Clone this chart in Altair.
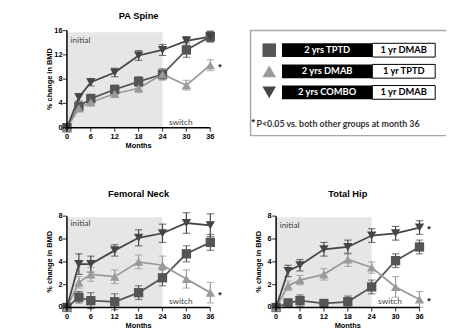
import altair as alt
import pandas as pd

# ---------------- data ----------------
months = [0, 3, 6, 12, 18, 24, 30, 36]
series_keys = ["TPTD", "DMAB", "COMBO"]
series_colors = ["#555555", "#9a9a9a", "#454545"]
series_shapes = ["square", "triangle-up", "triangle-down"]

spine_tptd = [0, 3.5, 4.8, 6.3, 7.6, 8.8, 12.8, 15.0]
spine_tptd_err = [0.2, 0.6, 0.7, 0.7, 0.8, 0.9, 1.2, 0.8]
spine_dmab = [0, 3.2, 4.2, 5.6, 6.5, 8.8, 7.0, 10.3]
spine_dmab_err = [0.2, 0.6, 0.6, 0.6, 0.7, 0.9, 0.8, 0.9]
spine_combo = [0, 5.0, 7.5, 9.1, 11.9, 12.8, 14.3, 15.0]
spine_combo_err = [0.2, 0.6, 0.6, 0.7, 0.8, 0.9, 0.7, 0.9]

fn_tptd = [0, 0.9, 0.6, 0.5, 1.3, 2.6, 4.7, 5.7]
fn_tptd_err = [0.1, 0.5, 0.7, 0.7, 0.6, 0.7, 0.7, 0.7]
fn_dmab = [0, 2.2, 2.9, 2.7, 4.0, 3.7, 2.5, 1.3]
fn_dmab_err = [0.1, 0.5, 0.6, 0.6, 0.6, 0.8, 0.8, 0.9]
fn_combo = [0, 3.8, 3.8, 5.0, 6.1, 6.5, 7.4, 7.2]
fn_combo_err = [0.1, 0.9, 0.7, 0.5, 0.7, 0.8, 0.9, 1.0]

th_tptd = [0, 0.4, 0.6, 0.35, 0.5, 1.8, 4.1, 5.3]
th_tptd_err = [0.1, 0.3, 0.5, 0.3, 0.5, 0.6, 0.6, 0.6]
th_dmab = [0, 1.9, 2.4, 2.9, 4.2, 3.5, 1.8, 0.7]
th_dmab_err = [0.1, 0.4, 0.4, 0.5, 0.6, 0.5, 0.9, 0.7]
th_combo = [0, 3.2, 3.7, 5.1, 5.3, 6.3, 6.5, 7.0]
th_combo_err = [0.1, 0.5, 0.5, 0.6, 0.6, 0.6, 0.6, 0.6]

x_ticks = [0, 6, 12, 18, 24, 30, 36]
spine_y_ticks = [0, 4, 8, 12, 16]
hip_y_ticks = [0, 2, 4, 6, 8]
initial_period = [0, 24]

legend_left = ["2 yrs TPTD", "2 yrs DMAB", "2 yrs COMBO"]
legend_right = ["1 yr DMAB", "1 yr TPTD", "1 yr DMAB"]
footnote = "P<0.05 vs. both other groups at month 36"

# ---------------- layout / style ----------------
W, H = 446, 323
FONT = "Liberation Sans"
LFONT = "Lato"

color_scale = alt.Scale(domain=series_keys, range=series_colors)
shape_scale = alt.Scale(domain=series_keys, range=series_shapes)


def panel(title, values, errors, ymax, yticks, xr, yr, shade_top,
          initial_y, switch_y, star_series, title_y):
    rows = []
    for key, vals, errs in zip(series_keys, values, errors):
        for m, v, e in zip(months, vals, errs):
            rows.append({"series": key, "month": m, "value": v,
                         "lo": v - e, "hi": v + e})
    df = pd.DataFrame(rows)
    xs = alt.Scale(domain=[0, 36], range=xr, nice=False, zero=False)
    ys = alt.Scale(domain=[0, ymax], range=yr, nice=False, zero=False)

    def X(f):
        return alt.X(f, type="quantitative", scale=xs, axis=None)

    def Y(f):
        return alt.Y(f, type="quantitative", scale=ys, axis=None)

    col = alt.Color("series:N", scale=color_scale, legend=None)

    shade_df = pd.DataFrame({"x0": [initial_period[0]], "x1": [initial_period[1]],
                             "y0": [0], "y1": [shade_top]})
    shade = alt.Chart(shade_df).mark_rect(color="#e6e6e6").encode(
        x=X("x0"), x2="x1", y=Y("y0"), y2="y1")

    # hand-drawn axes (Prism style)
    dom_df = pd.DataFrame({"x0": [0, 0], "x1": [36, 0], "y0": [0, 0], "y1": [0, ymax]})
    domain = alt.Chart(dom_df).mark_rule(color="black", strokeWidth=1.5).encode(
        x=X("x0"), x2="x1", y=Y("y0"), y2="y1")
    xt_df = pd.DataFrame({"v": x_ticks, "z": [0] * len(x_ticks)})
    yt_df = pd.DataFrame({"v": yticks, "z": [0] * len(yticks)})
    xtick = alt.Chart(xt_df).mark_tick(orient="vertical", size=4, thickness=1.2,
                                       yOffset=2, color="black").encode(x=X("v"), y=Y("z"))
    ytick = alt.Chart(yt_df).mark_tick(orient="horizontal", size=4, thickness=1.2,
                                       xOffset=-2, color="black").encode(x=X("z"), y=Y("v"))
    xlab = alt.Chart(xt_df).mark_text(font=FONT, fontSize=7.5, fontWeight="bold",
                                      baseline="middle", yOffset=9.5).encode(
        x=X("v"), y=Y("z"), text="v:Q", color=alt.value("black"))
    ylab = alt.Chart(yt_df).mark_text(font=FONT, fontSize=7.5, fontWeight="bold",
                                      align="right", baseline="middle", xOffset=-4.5).encode(
        x=X("z"), y=Y("v"), text="v:Q", color=alt.value("black"))
    xt_title = alt.Chart(pd.DataFrame({"x": [18], "y": [0], "t": ["Months"]})).mark_text(
        font=FONT, fontSize=7.5, fontWeight="bold", baseline="middle", yOffset=19).encode(
        x=X("x"), y=Y("y"), text="t:N", color=alt.value("black"))
    yt_title = alt.Chart(pd.DataFrame({"x": [0], "y": [ymax / 2], "t": ["% change in BMD"]})).mark_text(
        font=FONT, fontSize=7.5, fontWeight="bold", baseline="middle", angle=270,
        xOffset=-17.5).encode(
        x=X("x"), y=Y("y"), text="t:N", color=alt.value("black"))

    base = alt.Chart(df)
    err = base.mark_rule(strokeWidth=1.2).encode(x=X("month"), y=Y("lo"), y2="hi", color=col)
    cap_lo = base.mark_tick(orient="horizontal", size=7.5, thickness=1.2).encode(
        x=X("month"), y=Y("lo"), color=col)
    cap_hi = base.mark_tick(orient="horizontal", size=7.5, thickness=1.2).encode(
        x=X("month"), y=Y("hi"), color=col)
    line = base.mark_line(strokeWidth=1.8).encode(x=X("month"), y=Y("value"), color=col)
    pts = base.mark_point(filled=True, size=90, opacity=1).encode(
        x=X("month"), y=Y("value"), color=col,
        shape=alt.Shape("series:N", scale=shape_scale, legend=None))

    lab_df = pd.DataFrame({"x": [0.9, 25.6], "y": [initial_y, switch_y],
                           "t": ["initial", "switch"]})
    labs = alt.Chart(lab_df).mark_text(align="left", baseline="middle", font=LFONT,
                                       fontSize=8.5).encode(
        x=X("x"), y=Y("y"), text="t:N", color=alt.value("#444444"))

    star_df = df[(df["month"] == 36) & (df["series"].isin(star_series))]
    stars = alt.Chart(star_df).mark_text(text="*", align="left", baseline="middle",
                                          xOffset=8, yOffset=2, font=FONT, fontSize=9,
                                          fontWeight="bold").encode(
        x=X("month"), y=Y("value"), color=alt.value("#222222"))

    ttl = alt.Chart(pd.DataFrame({"t": [title]})).mark_text(
        font=FONT, fontSize=9.5, fontWeight="bold", baseline="middle").encode(
        x=alt.value((xr[0] + xr[1]) / 2), y=alt.value(title_y), text="t:N",
        color=alt.value("black"))

    return alt.layer(shade, err, cap_lo, cap_hi, line, pts, domain, xtick, ytick,
                     xlab, ylab, xt_title, yt_title, labs, stars, ttl)


spine = panel("PA Spine", [spine_tptd, spine_dmab, spine_combo],
              [spine_tptd_err, spine_dmab_err, spine_combo_err], 16, spine_y_ticks,
              [60, 206], [119, 20], 15.7, 14.4, 1.0, ["DMAB"], 5)
fneck = panel("Femoral Neck", [fn_tptd, fn_dmab, fn_combo],
              [fn_tptd_err, fn_dmab_err, fn_combo_err], 8, hip_y_ticks,
              [60, 206], [302, 209], 7.9, 7.4, 0.6, ["DMAB"], 187)
thip = panel("Total Hip", [th_tptd, th_dmab, th_combo],
             [th_tptd_err, th_dmab_err, th_combo_err], 8, hip_y_ticks,
             [273, 419], [302, 209], 7.9, 7.2, 0.6, ["DMAB", "COMBO"], 187)

# ---------------- legend box ----------------
leg_df = pd.DataFrame({"row": [0, 1, 2], "series": series_keys,
                       "left": legend_left, "right": legend_right})
row_y = alt.Y("row:O", axis=None,
              scale=alt.Scale(type="band", domain=[0, 1, 2], range=[29.25, 93.75],
                              paddingInner=0.349, paddingOuter=0.1745))

frame = alt.Chart(pd.DataFrame({"a": [0]})).mark_rect(
    fill="white", stroke="#a8a8a8", strokeWidth=1.5).encode(
    x=alt.value(247), x2=alt.value(449), y=alt.value(20), y2=alt.value(127))
leg = alt.Chart(leg_df)
black_bars = leg.mark_bar(color="black", orient="horizontal").encode(
    x=alt.value(279), x2=alt.value(371), y=row_y)
white_boxes = leg.mark_bar(color="white", stroke="black", strokeWidth=1,
                           orient="horizontal").encode(
    x=alt.value(371), x2=alt.value(435), y=row_y)
left_txt = leg.mark_text(font=LFONT, fontSize=9.5, fontWeight="bold",
                         baseline="middle").encode(
    x=alt.value(325), y=row_y, text="left:N", color=alt.value("white"))
right_txt = leg.mark_text(font=LFONT, fontSize=9.5, fontWeight="bold",
                          baseline="middle").encode(
    x=alt.value(403), y=row_y, text="right:N", color=alt.value("black"))
leg_pts = leg.mark_point(filled=True, size=190, opacity=1).encode(
    x=alt.value(266), y=row_y,
    color=alt.Color("series:N", scale=color_scale, legend=None),
    shape=alt.Shape("series:N", scale=shape_scale, legend=None))
fn_df = pd.DataFrame({"t": [footnote], "s": ["*"]})
foot_star = alt.Chart(fn_df).mark_text(font=FONT, fontSize=9, fontWeight="bold",
                                       align="left", baseline="middle").encode(
    x=alt.value(248), y=alt.value(113), text="s:N", color=alt.value("#222222"))
foot = alt.Chart(fn_df).mark_text(font=LFONT, fontSize=9, fontWeight="bold",
                                  align="left", baseline="middle").encode(
    x=alt.value(253), y=alt.value(115), text="t:N", color=alt.value("#333333"))

legend_layer = alt.layer(frame, black_bars, white_boxes, left_txt, right_txt,
                         leg_pts, foot_star, foot)

chart = alt.layer(spine, fneck, thip, legend_layer).resolve_scale(
    x="independent", y="independent"
).properties(
    width=W, height=H, padding=0, background="white",
    autosize=alt.AutoSizeParams(type="none")
).configure_view(stroke=None)

chart.save("out.html", embed_options={"renderer": "svg", "actions": False})
